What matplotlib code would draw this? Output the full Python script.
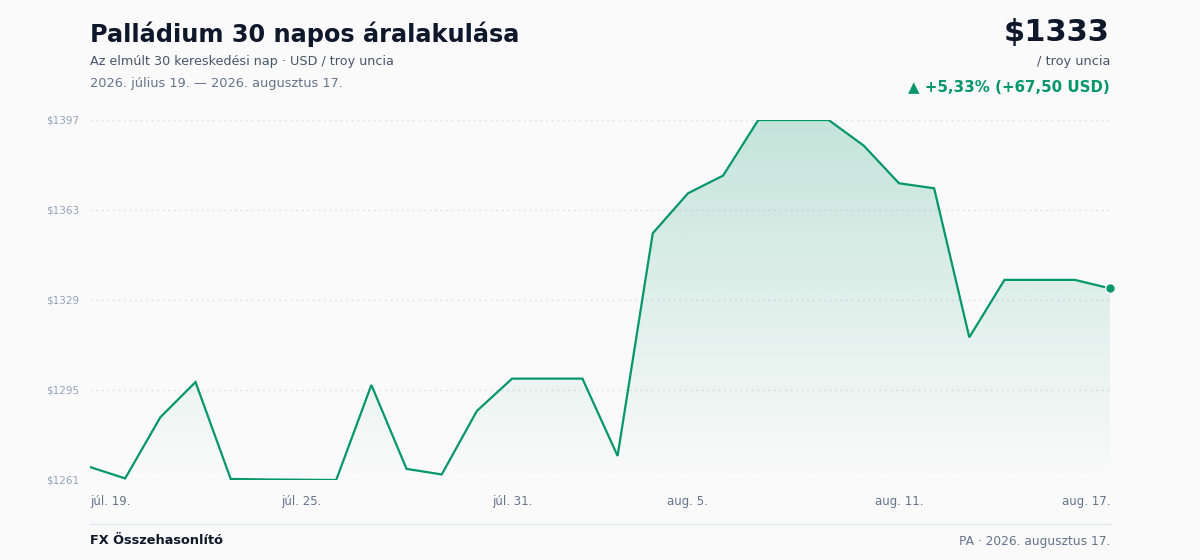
import matplotlib
matplotlib.use("Agg")
import matplotlib.pyplot as plt
import numpy as np
from matplotlib.colors import LinearSegmentedColormap
from matplotlib.patches import Polygon

# price per troy ounce, 30 trading days
days = ["júl. 19.", "júl. 20.", "júl. 21.", "júl. 22.", "júl. 23.", "júl. 24.",
        "júl. 25.", "júl. 26.", "júl. 27.", "júl. 28.", "júl. 29.", "júl. 30.",
        "júl. 31.", "aug. 1.", "aug. 2.", "aug. 3.", "aug. 4.", "aug. 5.",
        "aug. 6.", "aug. 7.", "aug. 8.", "aug. 9.", "aug. 10.", "aug. 11.",
        "aug. 12.", "aug. 13.", "aug. 14.", "aug. 15.", "aug. 16.", "aug. 17."]
prices = [1265.9, 1261.6, 1284.7, 1298.0, 1261.4, 1261.2, 1261.1, 1261.0,
          1296.9, 1265.2, 1263.1, 1287.1, 1299.3, 1299.3, 1299.3, 1270.1,
          1354.2, 1369.3, 1376.0, 1397.0, 1397.0, 1397.0, 1387.3, 1373.1,
          1371.2, 1314.9, 1336.6, 1336.6, 1336.6, 1333.4]
tick_idx = [0, 6, 12, 17, 23, 29]

GREEN = "#059669"
BG = "#fafafa"
W, H = 1200, 560


def fx(x):
    return x / W


def fy(y):
    return 1 - y / H


fig = plt.figure(figsize=(12, 5.6), dpi=100, facecolor=BG)

ax = fig.add_axes([fx(90), fy(480), fx(1020), 360 / H])
ax.set_facecolor(BG)
x = np.arange(len(prices))
y = np.array(prices)
ymin, ymax = y.min(), y.max()
ax.set_xlim(0, len(prices) - 1)
ax.set_ylim(ymin, ymax)

# gradient fill under the line
cmap = LinearSegmentedColormap.from_list("g", [(5/255, 150/255, 105/255, 0.0),
                                               (5/255, 150/255, 105/255, 0.22)])
grad = np.linspace(0, 1, 256).reshape(-1, 1)
img = ax.imshow(grad, cmap=cmap, aspect="auto", origin="lower",
                extent=[0, len(prices) - 1, ymin, ymax], zorder=1)
poly = Polygon(np.column_stack([np.r_[x, x[-1], x[0]], np.r_[y, ymin, ymin]]),
               closed=True, facecolor="none", edgecolor="none")
ax.add_patch(poly)
img.set_clip_path(poly)

ax.plot(x, y, color=GREEN, lw=1.6, zorder=3, solid_joinstyle="miter")
ax.plot(x[-1], y[-1], "o", color=GREEN, ms=7, mec=BG, mew=1, zorder=4, clip_on=False)

yt = np.linspace(ymin, ymax, 5)
ax.set_yticks(yt)
ax.set_yticklabels([f"${v:.0f}" for v in yt], fontsize=7.5, color="#94a3b8")
for v in yt:
    ax.axhline(v, color="#e2e5ea", lw=1, ls=(0, (1.5, 2.5)), zorder=0)
ax.set_xticks(tick_idx)
labels = ax.set_xticklabels([days[i] for i in tick_idx], fontsize=8.5, color="#64748b")
labels[0].set_ha("left")
labels[-1].set_ha("right")
ax.tick_params(length=0)
ax.tick_params(axis="y", pad=8)
ax.tick_params(axis="x", pad=11)
for s in ax.spines.values():
    s.set_visible(False)

# header
fig.text(fx(90), fy(34), "Palládium 30 napos áralakulása", fontsize=17.3,
         fontweight="bold", color="#0f172a", va="center")
fig.text(fx(90), fy(61), "Az elmúlt 30 kereskedési nap · USD / troy uncia",
         fontsize=9.2, color="#475569", va="center")
fig.text(fx(90), fy(83), "2026. július 19. — 2026. augusztus 17.",
         fontsize=9.3, color="#64748b", va="center")
fig.text(fx(1110), fy(32), f"${int(prices[-1])}", fontsize=22, fontweight="bold",
         color="#0f172a", va="center", ha="right")
fig.text(fx(1110), fy(61), "/ troy uncia", fontsize=9.3, color="#475569",
         va="center", ha="right")
chg = prices[-1] - prices[0]
pct = chg / prices[0] * 100
fig.text(fx(1110), fy(87), f"▲ +{pct:.2f}% (+{chg:.2f} USD)".replace(".", ","),
         fontsize=10.8, fontweight="bold", color=GREEN, va="center", ha="right")

# footer
fig.add_artist(plt.Line2D([fx(90), fx(1110)], [fy(524), fy(524)], color="#e5e7eb", lw=1))
fig.text(fx(90), fy(541), "FX Összehasonlító", fontsize=9.3, fontweight="bold",
         color="#0f172a", va="center")
fig.text(fx(1110), fy(541), "PA · 2026. augusztus 17.", fontsize=8.8,
         color="#64748b", va="center", ha="right")

fig.savefig("out.png", dpi=100, facecolor=BG)
